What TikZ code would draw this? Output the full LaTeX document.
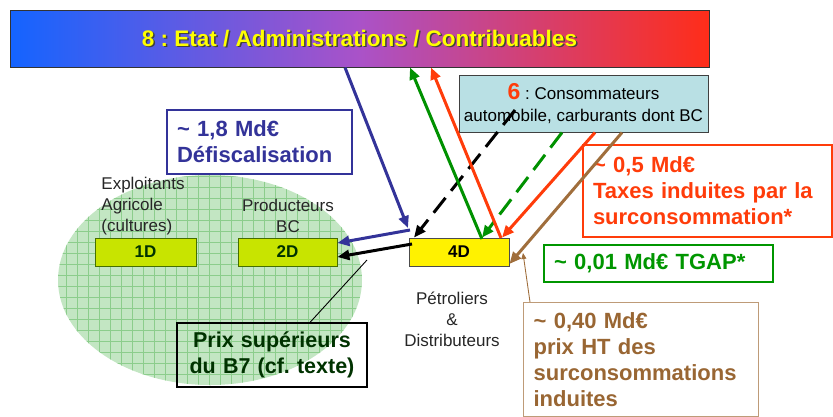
\documentclass[tikz,border=0pt]{standalone}
\usepackage{fontspec}
\setmainfont{Liberation Sans}
\usetikzlibrary{arrows.meta}
\definecolor{etatblue}{RGB}{20,100,255}
\definecolor{etatmid}{RGB}{170,82,200}
\definecolor{etatred}{RGB}{255,45,25}
\definecolor{etatyellow}{RGB}{255,255,0}
\definecolor{defblue}{RGB}{51,51,153}
\definecolor{taxred}{RGB}{255,60,10}
\definecolor{tgapgreen}{RGB}{0,150,0}
\definecolor{htbrown}{RGB}{153,102,51}
\definecolor{htframe}{RGB}{190,155,120}
\definecolor{prixgreen}{RGB}{0,50,0}
\definecolor{consocyan}{RGB}{185,224,228}
\definecolor{cropgreen}{RGB}{200,228,0}
\definecolor{cropframe}{RGB}{70,110,0}
\definecolor{fieldgreen}{RGB}{195,230,195}
\definecolor{fieldgrid}{RGB}{140,205,140}
\definecolor{arrowgreen}{RGB}{0,145,0}
\definecolor{arrowbrown}{RGB}{160,110,60}
\frenchspacing
\begin{document}
\begin{tikzpicture}[x=1pt,y=-1pt,
    callout/.style={draw,line width=1.2pt,fill=white,align=left,inner xsep=10pt,inner ysep=0pt,
      font=\bfseries\fontsize{22}{26}\selectfont},
    dbox/.style={draw,line width=0.8pt,inner sep=0pt,font=\bfseries\fontsize{17}{20}\selectfont},
    actor/.style={inner sep=0pt,font=\fontsize{17}{21}\selectfont},
    etattext/.style={inner sep=0pt,font=\bfseries\fontsize{22.5}{26}\selectfont},
    flow/.style={line width=3pt,-{Triangle[length=12pt,width=10pt]}},
    pointer/.style={line width=0.9pt}]
  \useasboundingbox (0,0) rectangle (833,416);

  % champ des cultures
  \begin{scope}
    \clip (210,280) ellipse [x radius=152, y radius=105];
    \fill[fieldgreen] (50,170) rectangle (370,390);
    \draw[fieldgrid,line width=0.5pt,step=11pt] (50,170) grid (370,390);
  \end{scope}

  % Etat
  \node[draw=black!80,line width=1pt,left color=etatblue,right color=etatred,middle color=etatmid,
    minimum width=699pt,minimum height=57pt,inner sep=0pt] (etat) at (359.5,38.5) {};
  \node[etattext,text=black!75] (etatshadow) at (361,40) {8 : Etat / Administrations / Contribuables};
  \node[etattext,text=etatyellow] (etatlabel) at (359.5,38.5) {8 : Etat / Administrations / Contribuables};

  % consommateurs
  \node[draw=black!75,line width=1pt,fill=consocyan,minimum width=249pt,minimum height=57pt,
    inner sep=0pt,align=center,font=\fontsize{17}{22}\selectfont] (conso) at (583.5,103.5)
    {{\color{taxred}\bfseries\fontsize{23}{22}\selectfont 6} : Consommateurs\\automobile, carburants dont BC};

  % acteurs
  \node[dbox,draw=cropframe,fill=cropgreen,text=prixgreen,minimum width=101pt,minimum height=28pt] (box1D) at (145.5,252) {1D};
  \node[dbox,draw=cropframe,fill=cropgreen,text=prixgreen,minimum width=99pt,minimum height=28pt] (box2D) at (287.5,252) {2D};
  \node[dbox,draw=black!70,fill=yellow,minimum width=100pt,minimum height=28pt] (box4D) at (459,252) {4D};
  \node[actor,align=left,text=black!85] (exploitants) at (143,206) {Exploitants\\Agricole\\(cultures)};
  \node[actor,align=center,text=black!85] (producteurs) at (288,216) {Producteurs\\BC};
  \node[actor,align=center,text=black!85] (petroliers) at (452,319) {Pétroliers\\\&\\Distributeurs};

  % montants
  \node[callout,draw=defblue,text=defblue,text width=165pt,minimum height=64pt] (defisc) at (259.5,142)
    {\textasciitilde{} 1,8 Md€\\Défiscalisation};
  \node[callout,draw=taxred,text=taxred,text width=229pt,minimum height=92pt] (taxes) at (707.5,191)
    {\textasciitilde{} 0,5 Md€\\Taxes induites par la\\surconsommation*};
  \node[callout,draw=tgapgreen,text=tgapgreen,text width=209pt,minimum height=37pt] (tgap) at (658.5,263.5)
    {\textasciitilde{} 0,01 Md€ TGAP*};
  \node[callout,draw=htframe,text=htbrown,text width=215pt,inner ysep=10pt,anchor=north west] (prixht) at (523,302)
    {\textasciitilde{} 0,40 Md€\\prix HT des\\surconsommations\\induites};
  \node[callout,fill=none,draw=black,text=prixgreen,align=center,text width=170pt,minimum height=64pt,
    font=\bfseries\fontsize{21.5}{26}\selectfont] (prix) at (272,355)
    {Prix supérieurs\\du B7 (cf. texte)};

  % flux
  \coordinate (bluebend) at (410,230);
  \coordinate (blackbend) at (412,244);
  \coordinate (greenbend) at (482,239);
  \coordinate (redbend) at (501,238);
  \coordinate (dashstart) at (515,110);
  \draw[flow,defblue] (etat.south -| 345,0) -- (408,228);
  \draw[flow,defblue] (bluebend) -- (box2D.east |- 0,243);
  \draw[flow,black] (blackbend) -- (box2D.east |- 0,257);
  \draw[flow,black,dash pattern=on 19pt off 9pt] (dashstart) -- (box4D.north west -| 414,0);
  \draw[flow,arrowgreen] (greenbend) -- (etat.south -| 410,0);
  \draw[flow,arrowgreen,dash pattern=on 19pt off 9pt] (conso.south -| 562,0) -- (box4D.north -| 482,0);
  \draw[flow,taxred] (redbend) -- (etat.south -| 431,0);
  \draw[flow,taxred] (conso.south -| 595,0) -- (box4D.north -| 502,0);
  \draw[flow,arrowbrown] (conso.south -| 622,0) -- (box4D.east |- 0,264);
  \draw[pointer,arrowbrown,-{Triangle[length=6pt,width=5pt]}] (prixht.north west -| 530,0) -- (523,253);
  \draw[pointer,black] (prix.north -| 310,0) -- (367,260);
\end{tikzpicture}
\end{document}
